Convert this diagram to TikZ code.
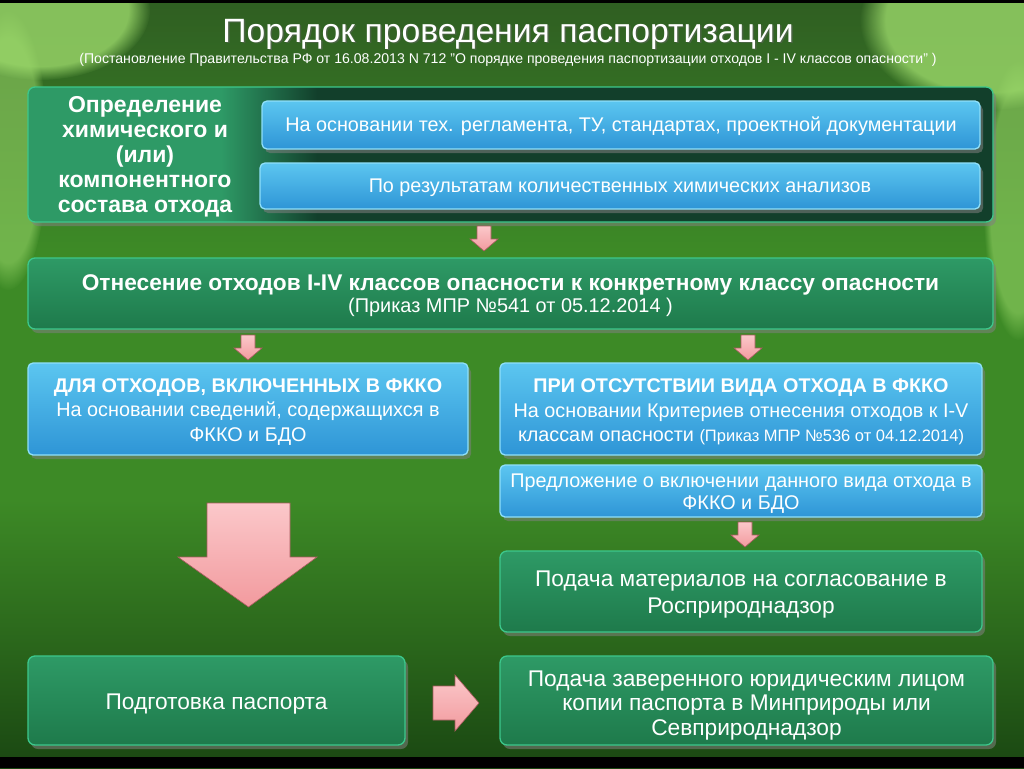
\documentclass[tikz,border=0pt]{standalone}
\usepackage{fontspec}
\setmainfont{Liberation Sans}
\usetikzlibrary{shadows,fadings}
\definecolor{gtop}{HTML}{2E9A66}
\definecolor{gbot}{HTML}{1E7A4B}
\definecolor{gedge}{HTML}{3CC88C}
\definecolor{gdark}{HTML}{123F2B}
\definecolor{btop}{HTML}{5CC6F0}
\definecolor{bbot}{HTML}{2E95D6}
\definecolor{bedge}{HTML}{8FE0FA}
\definecolor{pk}{HTML}{F29A9E}
\definecolor{pktop}{HTML}{FBC8CA}
\definecolor{pkedge}{HTML}{A85A5E}
\definecolor{bgtop}{HTML}{2F5E22}
\definecolor{bgmid}{HTML}{3D8A26}
\definecolor{bgbot}{HTML}{1A4712}
\definecolor{leaf}{HTML}{9BD86A}
\pgfdeclarehorizontalshading{boxone}{100bp}{color(0bp)=(gtop); color(35bp)=(gtop); color(40bp)=(gdark); color(100bp)=(gdark)}
\tikzset{
  gbox/.style={draw=gedge, line width=1.3pt, rounded corners=7pt, top color=gtop, bottom color=gbot,
    drop shadow={opacity=0.55, shadow xshift=3pt, shadow yshift=-4pt}, inner sep=0pt},
  bbox/.style={draw=bedge, line width=1.3pt, rounded corners=5pt, top color=btop, bottom color=bbot,
    drop shadow={opacity=0.55, shadow xshift=3pt, shadow yshift=-4pt}, inner sep=0pt},
  pkarrow/.style={top color=pktop, bottom color=pk, draw=pkedge, line width=0.6pt, line join=miter},
  txt/.style={text=white, align=center, inner sep=0pt},
  leafblob/.style={fill=leaf, path fading=circle with fuzzy edge 20 percent},
}
\begin{document}
\begin{tikzpicture}[x=1pt,y=-1pt]
\useasboundingbox (0,0) rectangle (1024,768);
% background
\fill[top color=bgtop, bottom color=bgmid, middle color=bgmid] (0,0) rectangle (1024,500);
\fill[top color=bgmid, bottom color=bgbot] (0,500) rectangle (1024,768);
\fill[leafblob, opacity=0.8] (40,10) ellipse [x radius=110pt, y radius=70pt];
\fill[leafblob, opacity=0.55] (8,150) ellipse [x radius=40pt, y radius=140pt];
\fill[leafblob, opacity=0.8] (990,20) ellipse [x radius=130pt, y radius=90pt];
\fill[leafblob, opacity=0.55] (1018,200) ellipse [x radius=35pt, y radius=140pt];
\fill[black] (0,0) rectangle (1024,3);
\fill[black] (0,757) rectangle (1024,768);

% title
\node[txt, font=\fontsize{33.7}{40}\selectfont, text=black!60, opacity=0.5] at (509.5,35.5) {Порядок проведения паспортизации};
\node[txt, font=\fontsize{33.7}{40}\selectfont] (title) at (508,34) {Порядок проведения паспортизации};
\node[txt, font=\fontsize{14.1}{16}\selectfont] (sub) at (508,60) {(Постановление Правительства РФ от 16.08.2013 N 712 "О порядке проведения паспортизации отходов I - IV классов опасности" )};

% box 1
\node[gbox, shading=boxone, minimum width=965pt, minimum height=135pt] (b1) at (510.5,154.5) {};
\node[txt, font=\bfseries\fontsize{23}{25}\selectfont] (b1t) at (145,157) {Определение\\химического и\\(или)\\компонентного\\состава отхода};
\node[bbox, minimum width=718pt, minimum height=48pt] (ba) at (621,125) {};
\node[txt, font=\fontsize{19.8}{22}\selectfont] (bat) at ([yshift=-1pt]ba.center) {На основании тех. регламента, ТУ, стандартах, проектной документации};
\node[bbox, minimum width=720pt, minimum height=46pt] (bb) at (620,186) {};
\node[txt, font=\fontsize{19.8}{22}\selectfont] (bbt) at ([yshift=-2pt]bb.center) {По результатам количественных химических анализов};

% box 2
\node[gbox, minimum width=965pt, minimum height=71pt] (b2) at (510.5,293.5) {};
\node[txt] (b2t) at ([yshift=-2pt]b2.center) {\fontsize{22.7}{24}\selectfont\bfseries Отнесение отходов I-IV классов опасности к конкретному классу опасности\\[2pt]\fontsize{19.9}{22}\selectfont (Приказ МПР №541 от 05.12.2014 )};

% row 3
\node[bbox, minimum width=440pt, minimum height=92pt] (bc) at (248,409) {};
\node[txt, font=\fontsize{19.8}{24.5}\selectfont] (bct) at ([yshift=-3pt]bc.center) {\bfseries ДЛЯ ОТХОДОВ, ВКЛЮЧЕННЫХ В ФККО\\На основании сведений, содержащихся в\\ФККО и БДО};
\node[bbox, minimum width=482pt, minimum height=92pt] (bd) at (741,409) {};
\node[txt, font=\fontsize{19.8}{24.5}\selectfont] (bdt) at ([yshift=-3pt]bd.center) {\bfseries ПРИ ОТСУТСТВИИ ВИДА ОТХОДА В ФККО\\На основании Критериев отнесения отходов к I-V\\классам опасности {\fontsize{16.5}{24.5}\selectfont(Приказ МПР №536 от 04.12.2014)}};
\node[bbox, minimum width=482pt, minimum height=52pt] (be) at (741,491) {};
\node[txt, font=\fontsize{19.8}{22}\selectfont] (bet) at ([yshift=-3pt]be.center) {Предложение о включении данного вида отхода в\\ФККО и БДО};
\node[gbox, minimum width=482pt, minimum height=81pt] (bf) at (741,591.5) {};
\node[txt, font=\fontsize{22.7}{27}\selectfont] (bft) at ([yshift=-3pt]bf.center) {Подача материалов на согласование в\\Росприроднадзор};

% bottom row
\node[gbox, minimum width=377pt, minimum height=89pt] (bg) at (216.5,700.5) {};
\node[txt, font=\fontsize{22.7}{25}\selectfont] (bgt) at ([yshift=-4pt]bg.center) {Подготовка паспорта};
\node[gbox, minimum width=493pt, minimum height=89pt] (bh) at (746.5,700.5) {};
\node[txt, font=\fontsize{22.7}{24.5}\selectfont] (bht) at ([yshift=-5pt]bh.center) {Подача заверенного юридическим лицом\\копии паспорта в Минприроды или\\Севприроднадзор};

% small down arrows
\newcommand{\smalldown}[2]{%
  \draw[pkarrow] (#1-7,#2) -- (#1+7,#2) -- (#1+7,#2+13) -- (#1+14,#2+13) -- (#1,#2+25) -- (#1-14,#2+13) -- (#1-7,#2+13) -- cycle;}
\smalldown{484}{226}
\smalldown{248}{335}
\smalldown{748}{335}
\smalldown{745}{522}
% big down arrow
\draw[pkarrow] (207,503) -- (290,503) -- (290,557) -- (317,557) -- (248.5,607) -- (178,557) -- (207,557) -- cycle;
% right arrow
\draw[pkarrow] (433,686) -- (455,686) -- (455,675) -- (479,703) -- (455,731) -- (455,720) -- (433,720) -- cycle;
\end{tikzpicture}
\end{document}
